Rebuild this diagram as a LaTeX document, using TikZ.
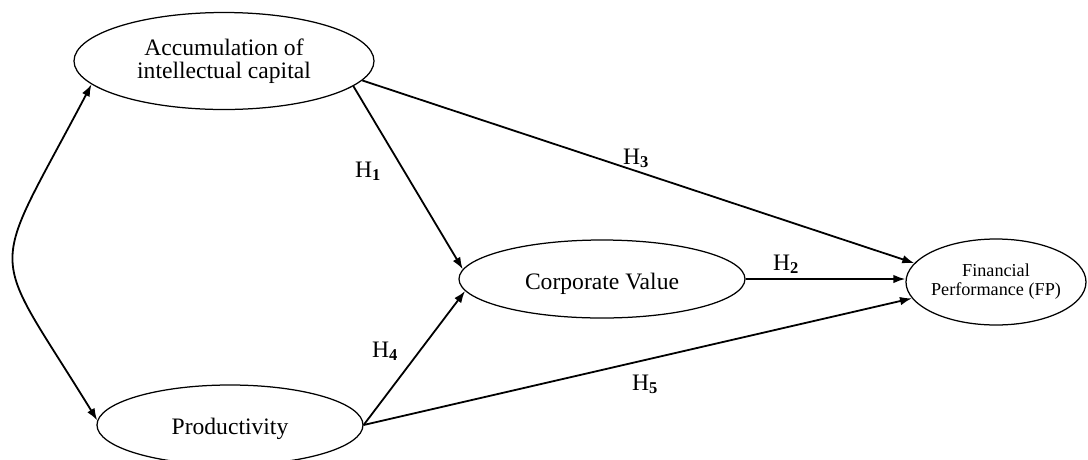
\documentclass[tikz,border=0pt]{standalone}
\usepackage{fontspec}
\setmainfont{Liberation Serif}
\usetikzlibrary{arrows.meta,shapes.geometric}
\begin{document}
\begin{tikzpicture}[x=1pt,y=-1pt,
  >={Latex[length=12pt,width=8.5pt]},
  latent/.style={draw, ellipse, line width=1.25pt, inner sep=0pt, align=center,
                 font=\fontsize{23.6}{22.5}\selectfont},
  pathline/.style={line width=1.8pt, ->},
  hyp/.style={font=\fontsize{23.6}{24}\selectfont, inner sep=0pt, anchor=base west}]
\useasboundingbox (0,0) rectangle (1088,459);
\node[latent, minimum width=300pt, minimum height=97pt] (acc) at (224,61) {Accumulation of\\intellectual capital};
\node[latent, minimum width=266pt, minimum height=80pt, text height=18pt, text depth=0pt] (prod) at (230,425) {Productivity};
\node[latent, minimum width=286pt, minimum height=78pt, text height=20pt, text depth=0pt] (corp) at (602,279) {Corporate Value};
\node[latent, minimum width=180pt, minimum height=86pt, inner xsep=-4pt,
      font=\fontsize{18.2}{19}\selectfont] (fp) at (996,282) {Financial\\Performance (FP)};

\draw[pathline] (acc.349) -- (corp.176);
\draw[pathline] (acc.352) -- (fp.167);
\draw[pathline] (corp.east) -- (corp.east -| fp.west);
\draw[pathline] (prod.east) -- (corp.185);
\draw[pathline] (prod.east) -- (fp.191);
\draw[line width=1.8pt, <->] (acc.190) .. controls (-13,283) and (-13,241) .. (prod.178);

\node[hyp] (h1) at (355,177) {H\textsubscript{\textbf{1}}};
\node[hyp] (h2) at (773,270) {H\textsubscript{\textbf{2}}};
\node[hyp] (h3) at (623,164) {H\textsubscript{\textbf{3}}};
\node[hyp] (h4) at (372,357) {H\textsubscript{\textbf{4}}};
\node[hyp] (h5) at (632,390) {H\textsubscript{\textbf{5}}};
\end{tikzpicture}
\end{document}
